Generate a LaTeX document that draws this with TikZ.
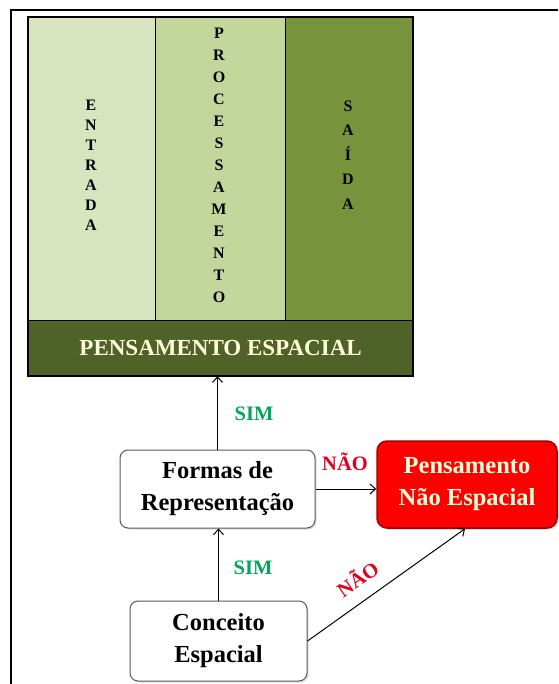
\documentclass[tikz,border=0pt]{standalone}
\usepackage{fontspec}
\setmainfont{Liberation Serif}
\usetikzlibrary{arrows.meta,shadows}
\definecolor{cEnt}{HTML}{D7E4BD}
\definecolor{cProc}{HTML}{C3D69B}
\definecolor{cSai}{HTML}{77933C}
\definecolor{cBar}{HTML}{4F6228}
\definecolor{cCream}{HTML}{FFFFD9}
\definecolor{cSim}{HTML}{00A65A}
\definecolor{cNao}{HTML}{E3001B}
\definecolor{cRed}{HTML}{FF0000}
\definecolor{cRedB}{HTML}{A50000}
\definecolor{cGrayB}{HTML}{595959}
\begin{document}
\begin{tikzpicture}[x=1pt,y=-1pt,
  colbox/.style={draw, line width=1.2pt, minimum height=303pt, inner sep=0pt, anchor=north west},
  vtext/.style={align=center, inner sep=0pt},
  wbox/.style={draw=cGrayB, line width=1pt, rounded corners=8pt, fill=white, align=center,
    font=\fontsize{24.5}{32}\selectfont\bfseries, inner sep=0pt,
    drop shadow={opacity=0.25, shadow xshift=1.5pt, shadow yshift=-1.5pt}},
  rbox/.style={draw=cRedB, line width=1.5pt, rounded corners=10pt, fill=cRed, text=cCream, align=center,
    font=\fontsize{24.5}{32}\selectfont\bfseries, inner sep=0pt,
    drop shadow={opacity=0.4, shadow xshift=1.5pt, shadow yshift=-1.5pt}},
  lbl/.style={font=\fontsize{20.5}{24}\selectfont\bfseries, inner sep=0pt},
  arr/.style={-{Straight Barb[length=5.5pt,width=10pt]}, line width=1pt}
]
\useasboundingbox (0,0) rectangle (558,684);
\fill[white] (0,0) rectangle (558,684);
% outer frame
\draw[line width=1.2pt] (11,684) -- (11,10) -- (558,10);

% columns
\node[colbox, fill=cEnt, minimum width=127pt] (entrada) at (28,17) {};
\node[colbox, fill=cProc, minimum width=130pt] (proc) at (155,17) {};
\node[colbox, fill=cSai, minimum width=127pt] (saida) at (285,17) {};
\node[draw, line width=1.2pt, fill=cBar, minimum width=384pt, minimum height=55pt, inner sep=0pt,
  anchor=north west, text=cCream, font=\fontsize{23}{26}\selectfont\bfseries] (bar) at (28,320) {PENSAMENTO ESPACIAL};
\draw[line width=2pt] (entrada.north west) rectangle (bar.south east);

% vertical texts
\node[vtext, font=\fontsize{16}{20}\selectfont\bfseries] (tEnt) at (91,165) {E\\N\\T\\R\\A\\D\\A};
\node[vtext, font=\fontsize{16}{22}\selectfont\bfseries] (tProc) at (219,165) {P\\R\\O\\C\\E\\S\\S\\A\\M\\E\\N\\T\\O};
\node[vtext, font=\fontsize{16}{24.5}\selectfont\bfseries] (tSai) at (348,155) {S\\A\\Í\\D\\A};

% boxes
\node[wbox, minimum width=195pt, minimum height=78pt] (formas) at (217.5,489) {Formas de\\Representação};
\node[rbox, minimum width=180pt, minimum height=87pt] (pens) at (467,484.5) {Pensamento\\Não Espacial};
\node[wbox, minimum width=177pt, minimum height=80pt] (conceito) at (218.5,641) {Conceito\\Espacial};

% connectors
\draw[arr] (formas.north) -- (formas.north |- bar.south);
\draw[arr] (conceito.north) -- (conceito.north |- formas.south);
\draw[arr] (formas.east) -- (formas.east -| pens.west);
\draw[arr] (conceito.east) -- ([xshift=-2pt]pens.south);

% labels
\node[lbl, text=cSim] (sim1) at (254,414) {SIM};
\node[lbl, text=cSim] (sim2) at (253,568) {SIM};
\node[lbl, text=cNao] (nao1) at (345,462) {NÃO};
\node[lbl, text=cNao, rotate=35] (nao2) at (357,578) {NÃO};
\end{tikzpicture}
\end{document}
